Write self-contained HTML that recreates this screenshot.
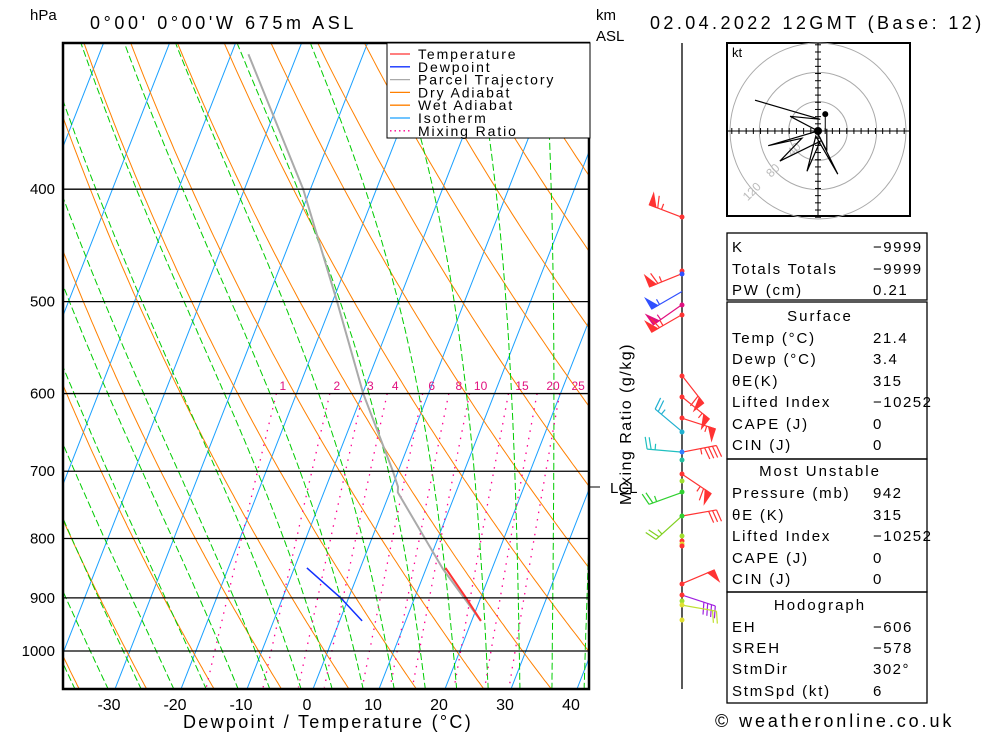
<!DOCTYPE html>
<html><head><meta charset="utf-8"><style>
html,body{margin:0;padding:0;background:#fff;overflow:hidden;}
svg{display:block;font-family:"Liberation Sans",sans-serif;}
</style></head><body>
<svg id="chart" width="1000" height="733" viewBox="0 0 1000 733" xmlns="http://www.w3.org/2000/svg">
<defs><clipPath id="plotclip"><rect x="63" y="43" width="526" height="646"/></clipPath></defs>
<g id="grid" clip-path="url(#plotclip)"></g>
<g id="series" clip-path="url(#plotclip)"></g>
<g id="axes"></g>
<text x="30" y="20" font-size="15">hPa</text>
<text x="90" y="29" font-size="18" letter-spacing="3.6">0°00' 0°00'W 675m ASL</text>
<text x="596" y="20" font-size="15">km</text>
<text x="596" y="41" font-size="15">ASL</text>
<text x="650" y="29" font-size="18" letter-spacing="3.4">02.04.2022 12GMT (Base: 12)</text>
<text x="328" y="728" font-size="18" text-anchor="middle" letter-spacing="2.3">Dewpoint / Temperature (°C)</text>
<text transform="translate(631,424) rotate(-90)" font-size="16" text-anchor="middle" letter-spacing="1.5">Mixing Ratio (g/kg)</text>
<line x1="589" y1="487" x2="600" y2="487" stroke="#000"/>
<text x="610" y="493" font-size="15">LCL</text>
<g>
<rect x="387" y="43" width="203" height="95" fill="#fff" stroke="#000"/>
<g id="legend"></g>
</g>
<g id="hodo">
<rect x="727" y="43" width="183" height="173" fill="#fff" stroke="#000" stroke-width="2"/>
<text x="732" y="57" font-size="13">kt</text>
</g>
<g id="barbs"></g>
<g id="table"></g>
<text x="715" y="727" font-size="18" letter-spacing="2.9">© weatheronline.co.uk</text>
</svg>
<script>
// ---- data ----
const pressureTicks = [400,500,600,700,800,900,1000];
const tempTicks = [-30,-20,-10,0,10,20,30,40];
const mixingRatios = [1,2,3,4,6,8,10,15,20,25];
const tempP = [942,900,848];
const tempT = [21.4,17.8,12.9];
const dewP = [942,900,848];
const dewT = [3.4,-1.2,-8.1];
const parcelP = [942,850,730,722,700,600,500,400,306];
const parcelT = [21.4,12.6,1.2,0.9,-0.8,-9.9,-19.3,-31.1,-47.4];
const hodoU = [-86,3,-38,0,-68,-22,-52,3,-15,-3,27,0,12,12];
const hodoV = [42,16,20,0,-20,-10,-41,-14,-55,-7,-59,-4,-27,3];
const barbP = [423,473,490,503,513,579,604,630,647,674,674,704,730,765,765,875,895,913];
const barbDir = [291,248,240,235,240,142,129,108,310,275,79,124,250,228,80,67,108,100];
const barbSpd = [65,65,55,55,65,60,55,55,25,25,45,65,25,25,30,50,40,20];
const barbCol = ['#ff3333','#ff3333','#3050ff','#e0107f','#ff3333','#ff3333','#ff3333','#ff3333','#20b0d0','#20c0c0','#ff3333','#ff3333','#30d030','#80d020','#ff3333','#ff3333','#a020e0','#c0e030'];
const dotY = [217,271,274,305,315,376,397,418,432,452,460,474,481,492,516,536,541,544,546,584,595,601,605,620];
const dotC = ['#ff3333','#ff3333','#3050ff','#e0107f','#ff3333','#ff3333','#ff3333','#ff3333','#20b0d0','#3080ff','#20c0a0','#ff3333','#a0e030','#30d030','#30d030','#a0e030','#ff3333','#e0e030','#ff3333','#ff3333','#ff3333','#a0e030','#e0e030','#e0e030'];

// ---- axes functions ----
const NS='http://www.w3.org/2000/svg';
function yP(p){return 651+504*Math.log(p/1000);}
function xT(t,p){return 313+6.6*t+0.391*(689-yP(p));}
function mk(tag,attrs,parent){const e=document.createElementNS(NS,tag);for(const k in attrs)e.setAttribute(k,attrs[k]);parent.appendChild(e);return e;}
const grid=document.getElementById('grid'),series=document.getElementById('series'),axes=document.getElementById('axes');
function pathFrom(pts){return 'M'+pts.map(q=>q[0].toFixed(1)+','+q[1].toFixed(1)).join('L');}
const pressures=[];for(let p=1080;p>=295;p-=5)pressures.push(p);

// isotherms
for(let t=-120;t<=50;t+=10){
  const l=mk('line',{x1:xT(t,1080),y1:yP(1080),x2:xT(t,295),y2:yP(295),stroke:'#1aa0ff','stroke-width':1},grid);
  
  
}
// dry adiabats
for(let tc=-60.5;tc<=160;tc+=10){
  const th=tc+273.15;
  const pts=pressures.map(p=>[xT(th*Math.pow(p/1000,0.286)-273.15,p),yP(p)]);
  const e=mk('path',{d:pathFrom(pts),fill:'none',stroke:'#ff8000','stroke-width':1},grid);
  
  
}
// moist adiabats
function es(t){return 6.112*Math.exp(17.67*t/(t+243.5));}
function dTdp(T,p){const Tk=T+273.15;const e=es(T);const rs=0.622*e/(p-e);
  return (287*Tk+2.5e6*rs)/(p*(1004+2.5e6*2.5e6*rs*0.622/(287*Tk*Tk)));}
for(let t0=-46;t0<=45;t0+=5){
  let T=t0,p=1000;const up=[[xT(T,p),yP(p)]];
  while(p>300){const h=-5;T+=dTdp(T,p)*h;p+=h;up.push([xT(T,p),yP(p)]);}
  T=t0;p=1000;const dn=[];
  while(p<1080){const h=5;T+=dTdp(T,p)*h;p+=h;dn.push([xT(T,p),yP(p)]);}
  const pts=dn.reverse().concat(up);
  const e=mk('path',{d:pathFrom(pts),fill:'none',stroke:'#00cc00','stroke-width':1,'stroke-dasharray':'7,3'},grid);
  
  
}
// mixing ratio
function tdW(w,p){const e=w*p/(622+w);const l=Math.log(e/6.112);return 243.5*l/(17.67-l);}
mixingRatios.forEach(w=>{
  const pts=[];for(let p=600;p<=1075;p+=5)pts.push([xT(tdW(w,p),p),yP(p)]);
  const e=mk('path',{d:pathFrom(pts),fill:'none',stroke:'#ff0090','stroke-width':1.3,'stroke-dasharray':'1.5,6'},grid);
  
  
  const t=mk('text',{x:xT(tdW(w,600),600)+6+0.5*w,y:390,'font-size':12,fill:'#e0107f','text-anchor':'middle'},axes);
  t.textContent=w;
  
  
});
// isobars
pressureTicks.forEach(p=>{
  const l=mk('line',{x1:63,y1:yP(p),x2:589,y2:yP(p),stroke:'#000','stroke-width':1.3},axes);
  
  
  const t=mk('text',{x:55,y:yP(p)+5,'font-size':15,'text-anchor':'end'},axes);
  t.textContent=p;
  
  
});
tempTicks.forEach(v=>{
  const t=mk('text',{x:307+6.6*v,y:710,'font-size':16,'text-anchor':'middle'},axes);
  t.textContent=v;
  
  
});
const frame=mk('rect',{x:63,y:43,width:526,height:646,fill:'none',stroke:'#000','stroke-width':2.5},axes);



// profiles
function profile(P,T,color,w,name){
  const e=mk('path',{d:pathFrom(P.map((p,i)=>[xT(T[i],p),yP(p)])),fill:'none',stroke:color,'stroke-width':w},series);
  
  
}
profile(parcelP,parcelT,'#aaaaaa',2,'parcel-trajectory');
profile(tempP,tempT,'#ff3333',2,'temperature-line');
profile(dewP,dewT,'#1030ff',1.5,'dewpoint-line');

// legend
const legItems=[['Temperature','#ff3333','none'],['Dewpoint','#1030ff','none'],['Parcel Trajectory','#aaaaaa','none'],['Dry Adiabat','#ff8000','none'],['Wet Adiabat','#ff8000','none'],['Isotherm','#1aa0ff','none'],['Mixing Ratio','#ff0090','1.5,3']];
const leg=document.getElementById('legend');
legItems.forEach((it,i)=>{
  const y=54+i*12.8;
  const l=mk('line',{x1:390,y1:y,x2:410,y2:y,stroke:it[1],'stroke-width':1.3,'stroke-dasharray':it[2]},leg);
  
  
  const t=mk('text',{x:418,y:y+5,'font-size':14,'letter-spacing':1.9},leg);
  t.textContent=it[0];
  
  
});

// hodograph
const hodo=document.getElementById('hodo');
const hcx=818,hcy=131,hk=0.733;
[40,80,120].forEach(r=>{
  const c=mk('circle',{cx:hcx,cy:hcy,r:r*hk,fill:'none',stroke:'#aaa'},hodo);
  
  
});
mk('line',{x1:727,y1:hcy,x2:910,y2:hcy,stroke:'#000'},hodo);
mk('line',{x1:hcx,y1:43,x2:hcx,y2:216,stroke:'#000'},hodo);
for(let k=-12;k<=12;k++){if(!k)continue;const d=k*10*hk*0.98;
  mk('line',{x1:hcx+d,y1:hcy-3,x2:hcx+d,y2:hcy+3,stroke:'#000'},hodo);
  mk('line',{x1:hcx-3,y1:hcy+d,x2:hcx+3,y2:hcy+d,stroke:'#000'},hodo);}
[['40',40],['80',80],['120',120]].forEach(a=>{
  const r=a[1]*hk,x=hcx-r*0.72,y=hcy+r*0.72;
  const t=mk('text',{transform:`translate(${x},${y}) rotate(-45)`,'font-size':12,fill:'#bbb','text-anchor':'middle'},hodo);
  t.textContent=a[0];
  
  
});
const hp=mk('path',{d:pathFrom(hodoU.map((u,i)=>[hcx+u*hk,hcy-hodoV[i]*hk])),fill:'none',stroke:'#000','stroke-width':1.2},hodo);


mk('circle',{cx:hcx+11*hk*0.9,cy:hcy-23*hk,r:3,fill:'#000'},hodo);
mk('line',{x1:hcx+11*hk*0.9,y1:hcy-23*hk,x2:hcx+11*hk*0.9,y2:hcy,stroke:'#000'},hodo);
mk('circle',{cx:hcx,cy:hcy,r:4,fill:'#000'},hodo);

// wind barbs
const bg=document.getElementById('barbs');
const bl=mk('line',{x1:682,y1:43,x2:682,y2:689,stroke:'#000','stroke-width':1.3},bg);


barbP.forEach((p,i)=>{
  const d=barbDir[i]*Math.PI/180,x0=682,y0=yP(p),L=35,c=barbCol[i];
  const ux=Math.sin(d),uy=-Math.cos(d);
  const g=mk('g',{stroke:c,fill:c,'stroke-width':1.2},bg);
  
  
  mk('line',{x1:x0,y1:y0,x2:x0+ux*L,y2:y0+uy*L},g);
  const px=-uy,py=ux;
  let s=barbSpd[i],pos=L;
  while(s>=50){const ax=x0+ux*pos,ay=y0+uy*pos,bx=x0+ux*(pos-7),by=y0+uy*(pos-7);
    mk('polygon',{points:`${ax},${ay} ${bx},${by} ${ax+px*12},${ay+py*12}`},g);pos-=9;s-=50;}
  while(s>=10){const ax=x0+ux*pos,ay=y0+uy*pos;
    mk('line',{x1:ax,y1:ay,x2:ax+px*12+ux*3,y2:ay+py*12+uy*3},g);pos-=4;s-=10;}
  if(s>=5){const ax=x0+ux*pos,ay=y0+uy*pos;mk('line',{x1:ax,y1:ay,x2:ax+px*6,y2:ay+py*6},g);}
});
dotY.forEach((y,i)=>{
  const c=mk('circle',{cx:682,cy:y,r:2.5,fill:dotC[i]},bg);
  
  
});

// table
const tb=document.getElementById('table');
const boxes=[[233,300],[302,459],[459,592],[592,703]];
boxes.forEach(b=>{
  const r=mk('rect',{x:727,y:b[0],width:200,height:b[1]-b[0],fill:'none',stroke:'#000','stroke-width':1.3},tb);
  
  
});
const rows=[['K','-9999',247],['Totals Totals','-9999',269],['PW (cm)','0.21',290],['#Surface','',316],['Temp (°C)','21.4',338],['Dewp (°C)','3.4',359],['θE(K)','315',381],['Lifted Index','-10252',402],['CAPE (J)','0',424],['CIN (J)','0',445],['#Most Unstable','',471],['Pressure (mb)','942',493],['θE (K)','315',515],['Lifted Index','-10252',536],['CAPE (J)','0',558],['CIN (J)','0',579],['#Hodograph','',605],['EH','-606',627],['SREH','-578',648],['StmDir','302°',669],['StmSpd (kt)','6',691]];
rows.forEach(r=>{
  if(r[0][0]==='#'){
    const t=mk('text',{x:820,y:r[2]+5,'font-size':15,'text-anchor':'middle','letter-spacing':2},tb);
    t.textContent=r[0].slice(1);
    
    
    return;}
  const a=mk('text',{x:732,y:r[2]+5,'font-size':15,'letter-spacing':1.8},tb);
  a.textContent=r[0];
  
  
  const b=mk('text',{x:873,y:r[2]+5,'font-size':15,'letter-spacing':1.5},tb);
  b.textContent=r[1].replace('-','−');
  
  
});
</script>
</body></html>
